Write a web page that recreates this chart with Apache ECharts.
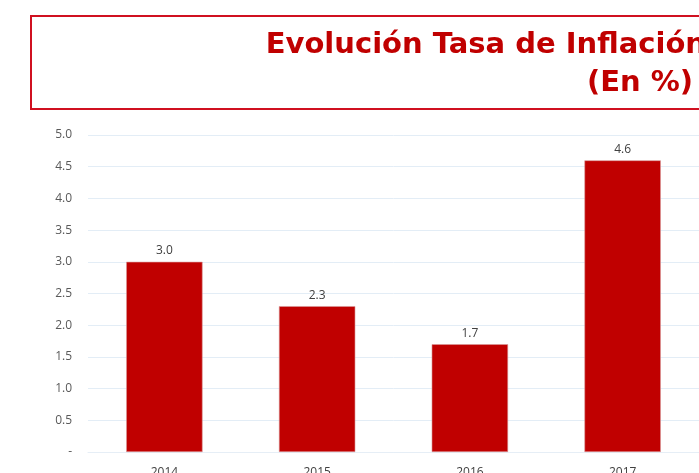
<!DOCTYPE html>
<html>
<head>
<meta charset="utf-8">
<script src="https://cdn.jsdelivr.net/npm/echarts@6/dist/echarts.min.js"></script>
<style>
html,body{margin:0;padding:0;background:#fff;}
#chart{width:699px;height:473px;}
</style>
</head>
<body>
<div id="chart"></div>
<script>
const categories = ['2014', '2015', '2016', '2017'];
const inflation = [3.0, 2.3, 1.7, 4.6];
const titleLines = ['Evolución Tasa de Inflación', '(En %)'];

const titleFont = {
  fontFamily: 'DejaVu Sans',
  fontWeight: 'bold',
  fontSize: 29,
  color: '#c00000'
};

const chart = echarts.init(document.getElementById('chart'));
chart.setOption({
  animation: false,
  backgroundColor: '#ffffff',
  title: [{
    text: titleLines[0],
    left: 706,
    top: 31,
    padding: 0,
    textAlign: 'right',
    textStyle: titleFont
  }, {
    text: titleLines[1],
    left: 693,
    top: 69,
    padding: 0,
    textAlign: 'right',
    textStyle: titleFont
  }],
  graphic: [{
    type: 'rect',
    shape: { x: 31, y: 16, width: 720, height: 93 },
    style: { fill: 'none', stroke: '#d01020', lineWidth: 2 },
    z: -1
  }],
  grid: { left: 88, right: 0, top: 135, bottom: 21, outerBoundsMode: 'none' },
  xAxis: {
    type: 'category',
    data: categories,
    axisLine: { show: true, lineStyle: { color: '#e6eef6' } },
    axisTick: { show: false },
    axisLabel: { color: '#404040', fontSize: 12, fontFamily: 'Open Sans', margin: 15 }
  },
  yAxis: {
    type: 'value',
    min: 0,
    max: 5,
    interval: 0.5,
    axisLine: { show: false },
    axisTick: { show: false },
    splitLine: { lineStyle: { color: '#e3edf6', width: 1 } },
    axisLabel: {
      color: '#595959',
      fontSize: 12,
      fontFamily: 'Open Sans',
      margin: 16,
      formatter: v => v === 0 ? '-' : v.toFixed(1)
    }
  },
  series: [{
    type: 'bar',
    data: inflation,
    barWidth: '50%',
    itemStyle: { color: '#c00000', borderColor: '#d89a9a', borderWidth: 0.6 },
    label: {
      show: true,
      position: 'top',
      distance: 5,
      color: '#404040',
      fontSize: 12,
      fontFamily: 'Open Sans',
      formatter: p => p.value.toFixed(1)
    }
  }]
});
</script>
</body>
</html>
